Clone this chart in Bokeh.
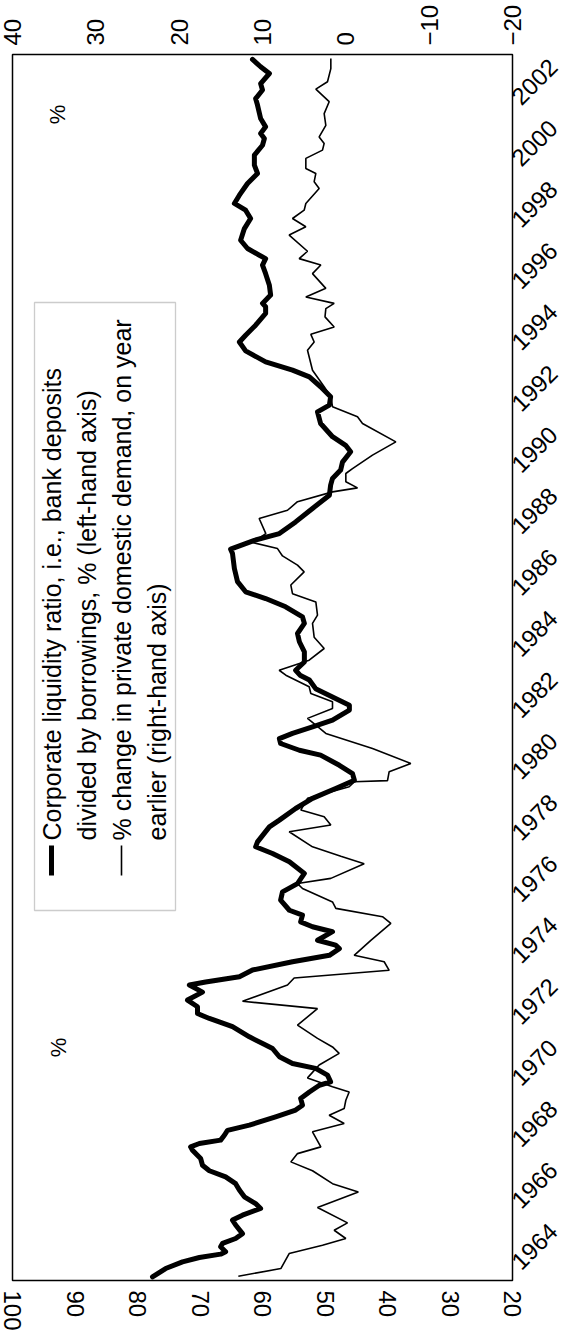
from math import pi
from bokeh.plotting import figure
from bokeh.models import Range1d, LinearAxis, FixedTicker, Label, BoxAnnotation
from bokeh.embed import file_html
from bokeh.resources import INLINE

# Corporate liquidity ratio (%), left-hand axis
liq_years = [1963.62, 1963.89, 1964.11, 1964.25, 1964.36, 1964.44, 1964.60, 1964.71, 1964.87, 1965.03,
             1965.31, 1965.47, 1965.63, 1965.85, 1966.01, 1966.23, 1966.45, 1966.66, 1966.88, 1967.08,
             1967.26, 1967.48, 1967.75, 1967.86, 1967.97, 1968.08, 1968.24, 1968.40, 1968.57, 1968.84,
             1969.06, 1969.22, 1969.44, 1969.65, 1969.87, 1969.98, 1970.20, 1970.42, 1970.58, 1970.80,
             1971.07, 1971.18, 1971.45, 1971.78, 1972.05, 1972.21, 1972.43, 1972.65, 1972.91, 1973.14,
             1973.24, 1973.41, 1973.63, 1973.90, 1974.11, 1974.33, 1974.44, 1974.60, 1974.88, 1975.04,
             1975.20, 1975.42, 1975.58, 1975.91, 1976.18, 1976.45, 1976.78, 1977.16, 1977.43, 1977.65,
             1977.81, 1978.30, 1978.52, 1978.90, 1979.23, 1979.55, 1979.82, 1980.04, 1980.31, 1980.64,
             1980.80, 1981.02, 1981.18, 1981.35, 1981.56, 1981.78, 1982.11, 1982.27, 1982.54, 1982.81,
             1983.09, 1983.25, 1983.41, 1983.68, 1984.01, 1984.34, 1984.61, 1984.94, 1985.15, 1985.48,
             1985.75, 1985.97, 1986.30, 1986.73, 1987.22, 1987.36, 1987.65, 1987.87, 1988.25, 1988.69,
             1989.12, 1989.45, 1989.67, 1989.94, 1990.20, 1990.54, 1990.75, 1991.03, 1991.46, 1991.84,
             1992.06, 1992.33, 1992.66, 1992.98, 1993.20, 1993.47, 1993.83, 1994.12, 1994.34, 1994.67,
             1995.05, 1995.27, 1995.38, 1995.65, 1995.97, 1996.35, 1996.63, 1996.84, 1996.95, 1997.17,
             1997.44, 1997.82, 1998.15, 1998.42, 1998.64, 1998.91, 1999.29, 1999.62, 1999.89, 2000.22,
             2000.54, 2000.76, 2000.92, 2001.14, 2001.41, 2001.85, 2002.06, 2002.34, 2002.55, 2002.88,
             2003.10, 2003.34]
liq_values = [77.6, 75.5, 72.8, 70.1, 66.7, 65.9, 66.7, 66.4, 64.3, 63.2,
              64.3, 64.8, 63.2, 60.3, 61.1, 62.9, 63.7, 64.3, 65.9, 68.5,
              69.6, 69.9, 71.2, 71.5, 70.1, 66.7, 66.1, 65.6, 62.1, 57.9,
              54.7, 53.6, 53.9, 52.5, 50.9, 49.1, 49.6, 51.5, 55.2, 57.3,
              58.4, 59.5, 62.1, 64.8, 68.5, 70.4, 70.4, 72.0, 69.6, 71.7,
              69.1, 63.7, 61.6, 55.2, 49.3, 47.7, 48.3, 51.2, 48.8, 52.0,
              53.9, 53.6, 55.7, 57.1, 56.8, 54.4, 53.3, 55.7, 58.4, 61.1,
              60.8, 58.9, 57.3, 54.7, 52.0, 48.3, 45.3, 45.6, 47.7, 50.7,
              54.1, 57.1, 57.3, 55.2, 52.0, 48.8, 46.1, 46.1, 48.8, 51.5,
              52.5, 54.0, 54.7, 53.3, 53.3, 54.1, 54.4, 53.3, 53.6, 56.3,
              59.5, 62.7, 64.0, 64.5, 64.8, 65.1, 61.3, 57.3, 54.7, 52.0,
              49.3, 49.1, 48.8, 47.5, 47.2, 45.9, 46.7, 48.8, 50.7, 51.2,
              49.3, 49.1, 50.7, 52.5, 55.2, 59.5, 62.7, 63.7, 62.7, 61.1,
              59.5, 59.5, 60.0, 58.7, 58.9, 59.5, 60.0, 59.5, 60.5, 62.4,
              63.5, 62.9, 61.9, 62.7, 64.5, 63.7, 62.4, 60.8, 61.3, 61.3,
              60.0, 59.7, 60.3, 59.5, 60.3, 60.8, 61.1, 60.0, 60.3, 58.9,
              60.3, 61.6]

# % change in private domestic demand on year earlier, right-hand axis
dem_years = [1963.64, 1963.89, 1964.38, 1964.65, 1964.87, 1965.14, 1965.38, 1965.88, 1966.39, 1966.66,
             1967.08, 1967.37, 1967.64, 1967.86, 1968.35, 1968.62, 1968.89, 1969.11, 1969.38, 1969.65,
             1969.82, 1970.11, 1970.53, 1970.91, 1971.12, 1971.40, 1971.83, 1972.37, 1972.61, 1973.14,
             1973.37, 1973.62, 1973.90, 1974.11, 1974.60, 1975.15, 1975.37, 1975.64, 1975.85, 1976.29,
             1976.45, 1976.62, 1977.10, 1977.34, 1977.65, 1978.14, 1978.36, 1978.63, 1978.85, 1979.23,
             1979.61, 1979.77, 1979.81, 1980.10, 1980.37, 1980.86, 1981.35, 1981.62, 1981.84, 1982.16,
             1982.38, 1982.65, 1982.87, 1983.25, 1983.41, 1983.74, 1984.12, 1984.49, 1984.94, 1985.21,
             1985.64, 1985.91, 1986.19, 1986.62, 1986.84, 1987.14, 1987.38, 1987.58, 1987.87, 1988.36,
             1988.63, 1988.91, 1989.23, 1989.36, 1989.56, 1989.83, 1989.99, 1990.43, 1990.86, 1991.46,
             1991.68, 1992.01, 1992.33, 1992.66, 1993.20, 1993.85, 1994.12, 1994.37, 1994.61, 1994.94,
             1995.21, 1995.38, 1995.59, 1995.87, 1996.35, 1996.63, 1996.84, 1997.08, 1997.61, 1997.88,
             1998.15, 1998.42, 1998.64, 1999.13, 1999.35, 1999.62, 1999.78, 2000.11, 2000.38, 2000.60,
             2000.81, 2001.19, 2001.57, 2001.96, 2002.37, 2002.61, 2003.04, 2003.37]
dem_values = [12.9, 7.8, 6.8, 2.8, 0.0, 1.4, -0.2, 3.4, -1.5, 1.6,
              4.0, 6.6, 5.8, 3.0, 4.0, 0.2, 2.0, 0.2, 0.0, -0.4,
              1.6, 4.6, 3.2, 0.8, 1.6, 3.4, 5.8, 3.4, 12.4, 7.0,
              6.2, -5.2, -4.6, -1.0, -3.0, -5.4, -4.4, 1.2, 1.6, 5.2,
              5.8, 1.8, -2.2, 0.6, 4.0, 6.8, 1.8, 2.6, 5.4, 4.6,
              -0.4, -1.0, -5.0, -5.2, -7.8, -3.2, 2.4, 3.6, 4.6, 1.6,
              1.6, 4.2, 4.4, 7.2, 8.0, 4.4, 2.6, 3.8, 4.0, 3.4,
              3.6, 6.4, 6.6, 5.0, 5.8, 7.6, 8.2, 11.2, 9.6, 10.4,
              7.0, 5.8, 1.6, -1.4, 0.0, 0.0, -0.8, -3.2, -6.0, -2.0,
              -1.4, 1.6, 1.8, 2.6, 4.0, 4.6, 3.8, 4.2, 1.4, 2.5,
              2.4, 1.4, 4.8, 2.4, 4.0, 3.0, 5.6, 4.6, 6.8, 4.8,
              6.4, 5.0, 4.8, 3.2, 3.8, 3.6, 4.8, 4.8, 2.8, 2.6,
              3.2, 2.4, 2.6, 2.0, 3.6, 2.2, 1.8, 1.8]

left_ticks = [100, 90, 80, 70, 60, 50, 40, 30, 20]
right_ticks = [40, 30, 20, 10, 0, -10, -20]
year_ticks = list(range(1964, 2003, 2))

legend_lines = ["Corporate liquidity ratio, i.e., bank deposits",
                "divided by borrowings, % (left-hand axis)",
                "% change in private domestic demand, on year",
                "earlier (right-hand axis)"]

FONT = "Liberation Sans"
Y0, Y1 = 1963.5, 2003.5

p = figure(frame_width=500, frame_height=1226, output_backend="svg", toolbar_location=None,
           x_range=Range1d(100, 20), y_range=Range1d(Y0, Y1),
           y_axis_location="right", x_axis_location="below",
           min_border_left=12, min_border_top=54, min_border_right=40, min_border_bottom=40)
p.extra_x_ranges = {"dem": Range1d(40, -20)}
p.grid.visible = False
p.outline_line_color = "black"
p.outline_line_width = 1.5
p.background_fill_color = "white"
p.border_fill_color = "white"

p.line(liq_values, liq_years, line_width=5, color="black", line_join="round", line_cap="round")
p.line(dem_values, dem_years, x_range_name="dem", line_width=1.6, color="black")

top_axis = LinearAxis(x_range_name="dem")
p.add_layout(top_axis, "above")

def style(ax, ticks, orient, standoff):
    ax.ticker = FixedTicker(ticks=ticks)
    ax.major_tick_line_color = None
    ax.minor_tick_line_color = None
    ax.major_tick_in = 0
    ax.major_tick_out = 0
    ax.axis_line_color = None
    ax.major_label_text_font = FONT
    ax.major_label_text_font_size = "24px"
    ax.major_label_text_color = "black"
    ax.major_label_orientation = orient
    ax.major_label_standoff = standoff

style(p.below[0], left_ticks, "vertical", 10)
style(top_axis, right_ticks, "vertical", 9)
top_axis.major_label_overrides = {-10: "\u221210", -20: "\u221220"}
style(p.right[0], year_ticks, pi / 4, 3)

# legend (drawn rotated, like the rest of the chart)
def px_x(px):
    return 100 - (px - 20) / 6.25

def px_y(py):
    return Y0 + (1288 - py) / 30.65

p.add_layout(BoxAnnotation(left=px_x(42), right=px_x(183), top=px_y(310), bottom=px_y(918),
                           fill_color=None, line_color="#555555", line_width=1.3))
p.add_layout(BoxAnnotation(left=px_x(56.5), right=px_x(61.5), top=px_y(853), bottom=px_y(883),
                           fill_color="black", fill_alpha=1, line_color=None))
p.add_layout(BoxAnnotation(left=px_x(128.2), right=px_x(129.8), top=px_y(853), bottom=px_y(883),
                           fill_color="black", fill_alpha=1, line_color=None))
for txt, cx in zip(legend_lines, [59, 94, 129, 164]):
    p.add_layout(Label(x=px_x(cx), y=px_y(848), text=txt, angle=pi / 2,
                       text_align="left", text_baseline="middle",
                       text_font=FONT, text_font_size="25px", text_color="black"))

for cx, cy in [(65, 122), (66, 1055)]:
    p.add_layout(Label(x=px_x(cx), y=px_y(cy), text="%", angle=pi / 2,
                       text_align="center", text_baseline="middle",
                       text_font=FONT, text_font_size="22px", text_color="black"))

open("out.html", "w").write(file_html(p, INLINE))
